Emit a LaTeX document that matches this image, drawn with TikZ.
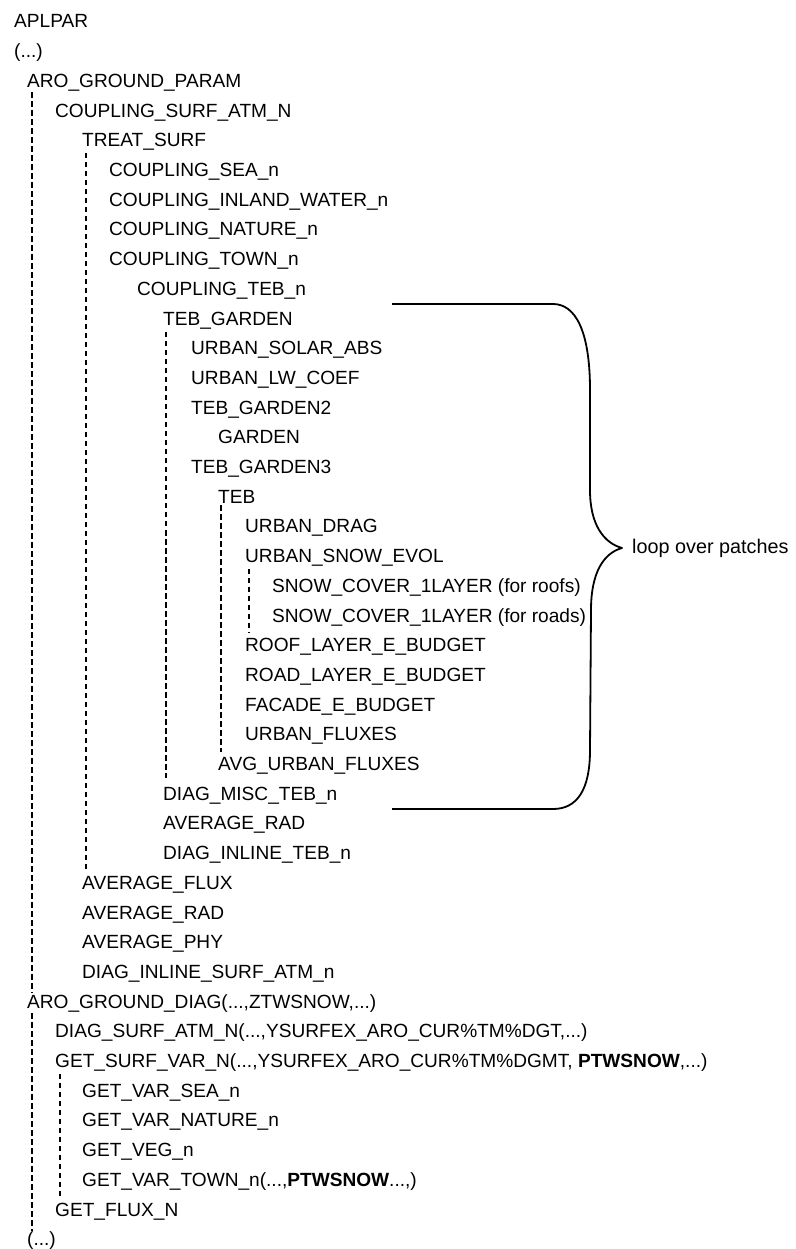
\documentclass[tikz,border=0pt]{standalone}
\usepackage{fontspec}
\setmainfont{Liberation Sans}
\begin{document}
\begin{tikzpicture}[x=1pt,y=-1pt,
  lbl/.style={anchor=base west,inner sep=0pt,font=\fontsize{19.1}{22}\selectfont},
  thickdash/.style={line width=2.3pt,dash pattern=on 5.5pt off 3.5pt},
  thindash/.style={line width=1.3pt,dash pattern=on 5.5pt off 3.5pt},
  bracestyle/.style={line width=1.8pt,line join=round}]
\useasboundingbox[fill=white] (0,0) rectangle (795,1249);
\newcommand\myrow[4]{\node[lbl] (#3) at (#2,{28+29.7*#1}) {#4};}
\myrow{0}{14}{aplpar}{APLPAR}
\myrow{1}{14}{dotsa}{(...)}
\myrow{2}{27}{aro}{ARO\_GROUND\_PARAM}
\myrow{3}{55}{csa}{COUPLING\_SURF\_ATM\_N}
\myrow{4}{82}{treat}{TREAT\_SURF}
\myrow{5}{109}{csea}{COUPLING\_SEA\_n}
\myrow{6}{109}{cinl}{COUPLING\_INLAND\_WATER\_n}
\myrow{7}{109}{cnat}{COUPLING\_NATURE\_n}
\myrow{8}{109}{ctown}{COUPLING\_TOWN\_n}
\myrow{9}{137}{cteb}{COUPLING\_TEB\_n}
\myrow{10}{163}{tg}{TEB\_GARDEN}
\myrow{11}{191}{usa}{URBAN\_SOLAR\_ABS}
\myrow{12}{191}{ulw}{URBAN\_LW\_COEF}
\myrow{13}{191}{tgb}{TEB\_GARDEN2}
\myrow{14}{218}{gard}{GARDEN}
\myrow{15}{191}{tgc}{TEB\_GARDEN3}
\myrow{16}{218}{teb}{TEB}
\myrow{17}{245}{udrag}{URBAN\_DRAG}
\myrow{18}{245}{usnow}{URBAN\_SNOW\_EVOL}
\myrow{19}{272}{scroof}{SNOW\_COVER\_1LAYER (for roofs)}
\myrow{20}{272}{scroad}{SNOW\_COVER\_1LAYER (for roads)}
\myrow{21}{245}{roof}{ROOF\_LAYER\_E\_BUDGET}
\myrow{22}{245}{road}{ROAD\_LAYER\_E\_BUDGET}
\myrow{23}{245}{facade}{FACADE\_E\_BUDGET}
\myrow{24}{245}{ufl}{URBAN\_FLUXES}
\myrow{25}{218}{avg}{AVG\_URBAN\_FLUXES}
\myrow{26}{163}{dmisc}{DIAG\_MISC\_TEB\_n}
\myrow{27}{163}{avrada}{AVERAGE\_RAD}
\myrow{28}{163}{dinteb}{DIAG\_INLINE\_TEB\_n}
\myrow{29}{82}{avflux}{AVERAGE\_FLUX}
\myrow{30}{82}{avradb}{AVERAGE\_RAD}
\myrow{31}{82}{avphy}{AVERAGE\_PHY}
\myrow{32}{82}{dinsurf}{DIAG\_INLINE\_SURF\_ATM\_n}
\myrow{33}{27}{arodiag}{ARO\_GROUND\_DIAG(...,ZTWSNOW,...)}
\myrow{34}{55}{dsurf}{DIAG\_SURF\_ATM\_N(...,YSURFEX\_ARO\_CUR\%TM\%DGT,...)}
\myrow{35}{55}{getsurf}{GET\_SURF\_VAR\_N(...,YSURFEX\_ARO\_CUR\%TM\%DGMT, \textbf{PTWSNOW},...)}
\myrow{36}{82}{gvsea}{GET\_VAR\_SEA\_n}
\myrow{37}{82}{gvnat}{GET\_VAR\_NATURE\_n}
\myrow{38}{82}{gveg}{GET\_VEG\_n}
\myrow{39}{82}{gvtown}{GET\_VAR\_TOWN\_n(...,\textbf{PTWSNOW}...,)}
\myrow{40}{55}{gflux}{GET\_FLUX\_N}
\myrow{41}{27}{dotsb}{(...)}
% dashed tree lines
\draw[thickdash] ([xshift=5pt,yshift=-1pt]aro.south west) -- ([xshift=5pt,yshift=1pt]arodiag.north west);
\draw[thindash] ([xshift=5pt,yshift=-1pt]arodiag.south west) -- ([xshift=5pt,yshift=1pt]dotsb.north west);
\draw[thindash] ([xshift=4pt,yshift=-2pt]treat.south west) -- ([xshift=4pt,yshift=6pt]avflux.north west);
\draw[thindash] ([xshift=3pt,yshift=-3pt]tg.south west) -- ([xshift=3pt,yshift=9pt]dmisc.north west);
\draw[thickdash] ([xshift=3pt,yshift=-2pt]teb.south west) -- ([xshift=3pt,yshift=5pt]avg.north west);
\draw[thindash] ([xshift=4pt,yshift=-2pt]usnow.south west) -- ([xshift=4pt,yshift=6pt]roof.north west);
\draw[thindash] ([xshift=5pt,yshift=-2pt]getsurf.south west) -- ([xshift=5pt,yshift=6pt]gflux.north west);
% brace
\node[lbl,anchor=west,font=\fontsize{19.8}{22}\selectfont] (loop) at (632,548) {loop over patches};
\draw[bracestyle] (392,304) -- (553,304) .. controls (575,304) and (590,330) .. (590,390)
  -- (590,490) .. controls (590,525) and (604,543) .. (loop.west -| 622,548)
  .. controls (604,553) and (591,572) .. (591,610)
  -- (590,750) .. controls (590,790) and (577,809) .. (553,809) -- (392,809);
\end{tikzpicture}
\end{document}
